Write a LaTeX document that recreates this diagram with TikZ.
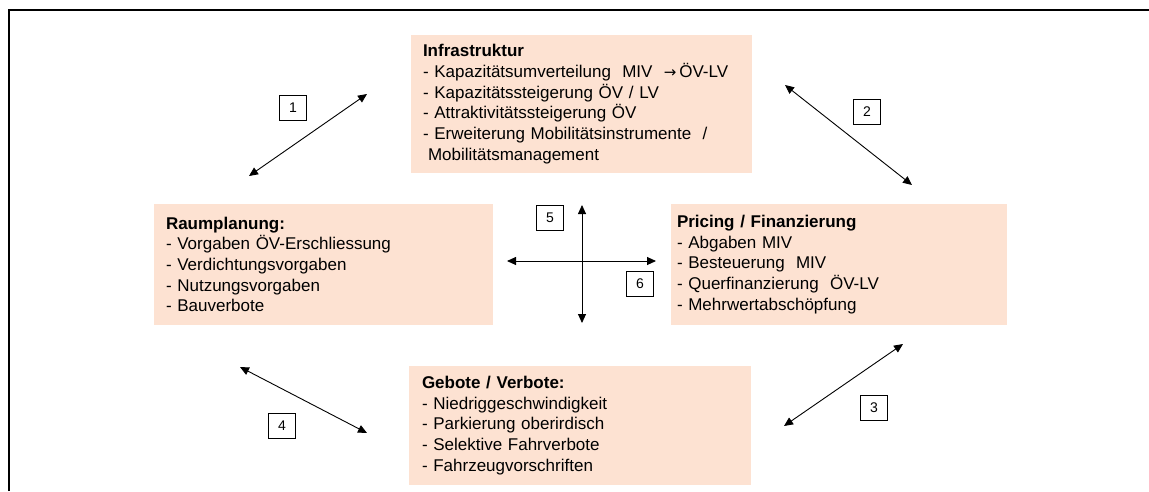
\documentclass[tikz,border=0pt]{standalone}
\usepackage{fontspec}
\setmainfont{Liberation Sans}
\newfontfamily\symfont{DejaVu Sans}
\usetikzlibrary{arrows.meta,positioning}
\definecolor{peach}{RGB}{253,226,210}
\tikzset{
  fld/.style={fill=peach, inner ysep=0pt, minimum height=#1, align=left,
      font=\fontsize{17}{20.7}\selectfont},
  numbox/.style={draw, line width=0.8pt, minimum width=27pt, minimum height=25pt,
      inner sep=0pt, font=\fontsize{14}{16}\selectfont},
  lnk/.style={{Triangle[length=9pt,width=8pt]}-{Triangle[length=9pt,width=8pt]},
      line width=0.9pt},
  frm/.style={line width=2pt},
}

\begin{document}
\begin{tikzpicture}[x=1pt,y=-1pt]
\useasboundingbox (0,0) rectangle (1149,491);
%---- the frame
\draw[frm] (9,491) -- (9,10) -- (1149,10);
%---- the four fields
\node[fld=138pt, inner xsep=12pt, text width=317pt] (infra) at (581.5,104)
  {\textbf{Infrastruktur}\\
   - Kapazitätsumverteilung \ MIV \ {\symfont\fontsize{15}{15}\selectfont →}\,ÖV-LV\\
   - Kapazitätssteigerung ÖV / LV\\
   - Attraktivitätssteigerung ÖV\\
   - Erweiterung Mobilitätsinstrumente \ /\\
   \hspace{5pt}Mobilitätsmanagement};
\node[fld=121pt, inner xsep=12pt, text width=315pt] (raum) at (323.5,264.5)
  {\textbf{Raumplanung:}\\
   - Vorgaben ÖV-Erschliessung\\
   - Verdichtungsvorgaben\\
   - Nutzungsvorgaben\\
   - Bauverbote};
\node[fld=121pt, inner xsep=6pt, text width=324pt] (pricing) at (839,264.5)
  {\textbf{Pricing / Finanzierung}\\
   - Abgaben MIV\\
   - Besteuerung \ MIV\\
   - Querfinanzierung \ ÖV-LV\\
   - Mehrwertabschöpfung};
\node[fld=119pt, inner xsep=13pt, text width=316pt] (gebote) at (580,425.5)
  {\textbf{Gebote / Verbote:}\\
   - Niedriggeschwindigkeit\\
   - Parkierung oberirdisch\\
   - Selektive Fahrverbote\\
   - Fahrzeugvorschriften};
%---- arrow ends
\coordinate (e1a) at (249,176); \coordinate (e1b) at (367,94);
\coordinate (e2a) at (785,85);  \coordinate (e2b) at (912,185);
\coordinate (e3a) at (784,426); \coordinate (e3b) at (903,344);
\coordinate (e4a) at (240,367); \coordinate (e4b) at (367,433);
\coordinate (e5a) at (582,205); \coordinate (e5b) at (582,323);
\coordinate (e6a) at (507,261); \coordinate (e6b) at (656,261);
\foreach \k in {1,...,6}{
  \draw[lnk] (e\k a) -- (e\k b);}
%---- the numbers
\foreach \k/\x/\y in {1/293/108, 2/867/112, 3/874/408, 4/282/426, 5/550/218, 6/640/284}{
  \node[numbox] (n\k) at (\x,\y) {\k};}
\end{tikzpicture}
\end{document}
